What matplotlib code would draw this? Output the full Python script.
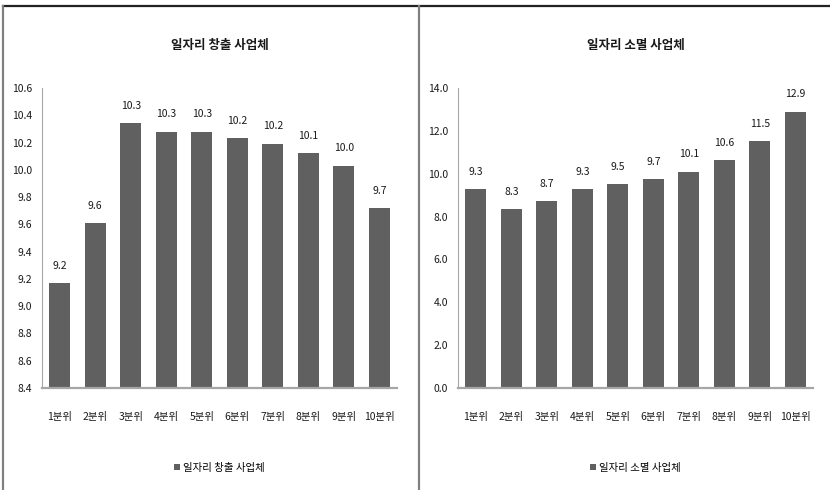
import matplotlib
matplotlib.use('Agg')
import matplotlib.pyplot as plt
from matplotlib.lines import Line2D

plt.rcParams['font.family'] = ['Noto Sans CJK KR', 'DejaVu Sans']

CATEGORIES = ['1분위', '2분위', '3분위', '4분위', '5분위',
              '6분위', '7분위', '8분위', '9분위', '10분위']
CREATION = [9.17, 9.61, 10.34, 10.28, 10.28, 10.23, 10.19, 10.12, 10.03, 9.72]
DESTRUCTION = [9.27, 8.34, 8.71, 9.27, 9.50, 9.74, 10.10, 10.64, 11.51, 12.90]

CREATION_TITLE = '일자리 창출 사업체'
DESTRUCTION_TITLE = '일자리 소멸 사업체'

BAR_COLOR = '#606060'
AXIS_COLOR = '#a6a6a6'


def draw_panel(axis, values, title, ylim, yticks):
    x = range(len(CATEGORIES))
    bars = axis.bar(x, values, width=0.58, color=BAR_COLOR, label=title,
                    zorder=2)
    for xi, v in zip(x, values):
        axis.annotate('%.1f' % v, (xi, v), xytext=(0, 9),
                      textcoords='offset points', ha='center', va='bottom',
                      fontsize=7.5, color='#1a1a1a')

    axis.set_xlim(-0.5, len(CATEGORIES) - 0.5)
    axis.set_ylim(*ylim)
    axis.set_yticks(yticks)
    axis.set_yticklabels(['%.1f' % t for t in yticks], fontsize=7.5)
    axis.set_xticks(list(x))
    axis.set_xticklabels(CATEGORIES, fontsize=7.5)
    axis.tick_params(axis='both', length=0, colors='#1a1a1a')
    axis.tick_params(axis='x', pad=17)
    axis.tick_params(axis='y', pad=7)

    for side in ('top', 'right'):
        axis.spines[side].set_visible(False)
    axis.spines['left'].set_color(AXIS_COLOR)
    axis.spines['left'].set_linewidth(0.8)
    axis.spines['bottom'].set_color(AXIS_COLOR)
    axis.spines['bottom'].set_linewidth(1.6)

    axis.set_title(title, fontsize=9, fontweight='bold', pad=28,
                   color='#1a1a1a')
    axis.legend(handles=[bars], loc='center', bbox_to_anchor=(0.5, -0.265),
                frameon=False, fontsize=7.5, handlelength=0.6,
                handleheight=0.6, handletextpad=0.3)
    return axis


fig = plt.figure(figsize=(8.3, 4.9), dpi=100)
fig.patch.set_facecolor('white')

ax1 = fig.add_axes([42 / 830, 102 / 490, 355 / 830, 300 / 490])
ax2 = fig.add_axes([458 / 830, 102 / 490, 355 / 830, 300 / 490])

draw_panel(ax1, CREATION, CREATION_TITLE, (8.4, 10.6),
           [8.4, 8.6, 8.8, 9.0, 9.2, 9.4, 9.6, 9.8, 10.0, 10.2, 10.4, 10.6])
draw_panel(ax2, DESTRUCTION, DESTRUCTION_TITLE, (0, 14),
           [0, 2, 4, 6, 8, 10, 12, 14])

# outer frame: dark top rule, grey left edge and divider
top = 1 - 6 / 490
fig.add_artist(Line2D([3 / 830, 1], [top, top], color='#222222', lw=1.6,
                      transform=fig.transFigure))
fig.add_artist(Line2D([3 / 830, 3 / 830], [0, top], color='#808080', lw=1.6,
                      transform=fig.transFigure))
fig.add_artist(Line2D([419 / 830, 419 / 830], [0, top], color='#808080',
                      lw=1.6, transform=fig.transFigure))

fig.savefig('out.png', dpi=100)
